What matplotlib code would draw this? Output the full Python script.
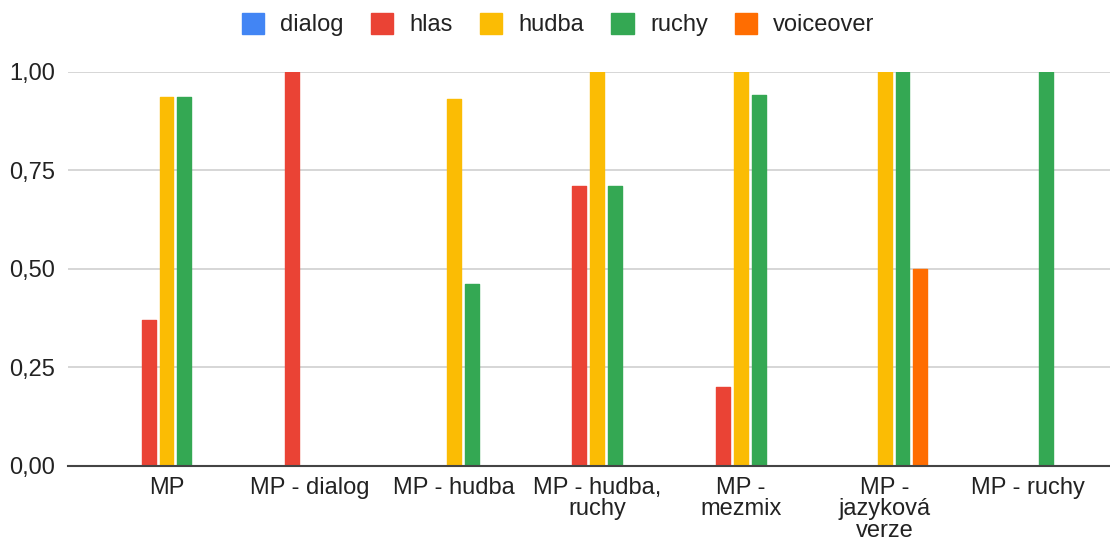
import matplotlib
matplotlib.use("Agg")
import matplotlib.pyplot as plt
import numpy as np
from matplotlib.ticker import FuncFormatter, FixedLocator

categories = ["MP", "MP - dialog", "MP - hudba", "MP - hudba,\nruchy",
              "MP -\nmezmix", "MP -\njazyková\nverze", "MP - ruchy"]
series_names = ["dialog", "hlas", "hudba", "ruchy", "voiceover"]
dialog = [0, 0, 0, 0, 0, 0, 0]
hlas = [0.37, 1.00, 0, 0.71, 0.20, 0, 0]
hudba = [0.935, 0, 0.93, 1.00, 1.00, 1.00, 0]
ruchy = [0.935, 0, 0.46, 0.71, 0.94, 1.00, 1.00]
voiceover = [0, 0, 0, 0, 0, 0.50, 0]
colors = ["#4285F4", "#EA4335", "#FBBC04", "#34A853", "#FF6D01"]
yticks = [0.0, 0.25, 0.5, 0.75, 1.0]

plt.rcParams['font.family'] = ['Liberation Sans', 'DejaVu Sans']
text_color = "#222222"

fig = plt.figure(figsize=(11.1, 5.4), dpi=100)
ax = fig.add_axes([68/1110, 1-465.7/540, 1-68/1110, (465.7-71.7)/540])

x = np.arange(len(categories))
slot = 0.125
width = 0.097
data = [dialog, hlas, hudba, ruchy, voiceover]
for i, (name, vals, c) in enumerate(zip(series_names, data, colors)):
    ax.bar(x + (i - 2) * slot, vals, width=width, color=c, label=name,
           edgecolor=c, linewidth=1.0, joinstyle='round', zorder=3)

ax.set_xlim(-0.686, 6.57)
ax.set_ylim(0, 1.0)
ax.yaxis.set_major_locator(FixedLocator(yticks))
ax.yaxis.set_major_formatter(FuncFormatter(lambda v, p: f"{v:.2f}".replace('.', ',')))
ax.set_xticks(x)
ax.set_xticklabels(categories, linespacing=0.98)
ax.tick_params(axis='x', length=0, pad=8, labelsize=17, labelcolor=text_color)
ax.tick_params(axis='y', length=0, pad=9, labelsize=17, labelcolor=text_color)
ax.grid(axis='y', color="#cccccc", linewidth=1.1, zorder=0)
ax.set_axisbelow(True)
for s in ["top", "right", "left"]:
    ax.spines[s].set_visible(False)
ax.spines["bottom"].set_color("#444444")
ax.spines["bottom"].set_linewidth(1.5)
ax.spines["bottom"].set_zorder(4)

leg = fig.legend(loc="center", bbox_to_anchor=(0.503, 0.954), ncol=5, frameon=False,
                 fontsize=17, handlelength=0.95, handleheight=0.95, handletextpad=0.68,
                 columnspacing=1.15, labelcolor=text_color)

fig.savefig("out.png", dpi=100)
